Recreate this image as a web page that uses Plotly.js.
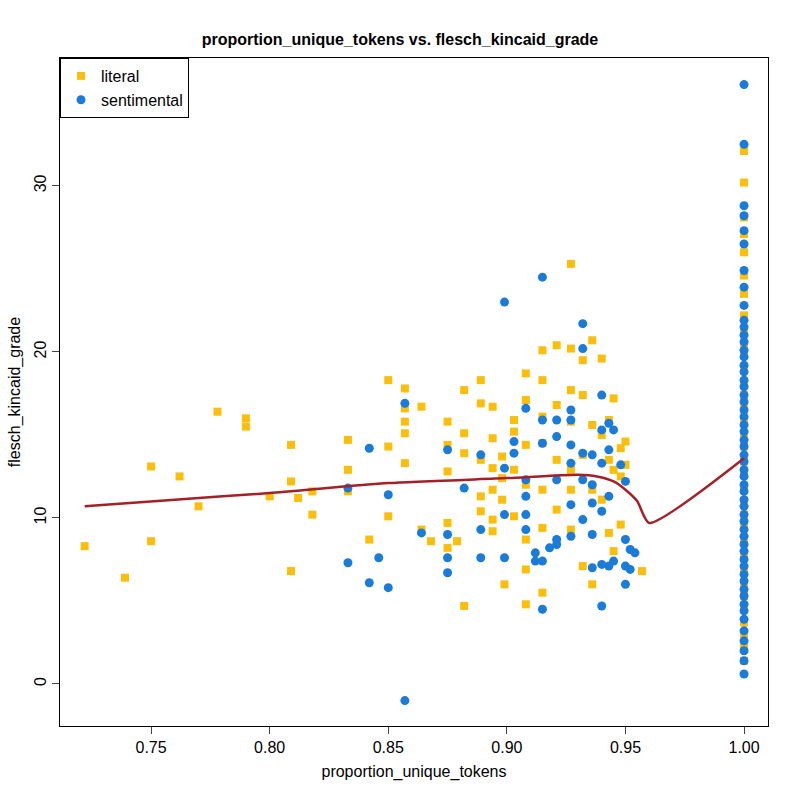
<!DOCTYPE html>
<html>
<head>
<meta charset="utf-8">
<script src="https://cdn.plot.ly/plotly-3.0.1.min.js"></script>
<style>body{margin:0;background:#fff}#chart{width:800px;height:800px}</style>
</head>
<body>
<div id="chart"></div>
<script>
// literal points below 1.0
const litX = [0.722,0.739,0.750,0.750,0.762,0.770,0.778,0.790,0.790,0.800,0.809,0.809,0.809,0.812,0.818,0.818,
  0.833,0.833,0.833,0.842,0.850,0.850,0.850,0.857,0.857,0.857,0.857,0.857,0.864,0.864,0.868,
  0.875,0.875,0.875,0.875,0.875,0.879,0.882,0.882,0.882,0.882,0.889,0.889,0.889,0.889,0.889,
  0.894,0.894,0.894,0.894,0.894,0.894,0.898,0.898,0.898,0.899,0.903,0.903,0.903,0.903,
  0.908,0.908,0.908,0.908,0.908,0.908,0.908,0.915,0.915,0.915,0.915,0.915,0.915,0.915,
  0.921,0.921,0.921,0.921,0.927,0.927,0.927,0.927,0.927,0.927,0.927,0.932,0.932,0.932,0.932,
  0.936,0.936,0.936,0.936,0.940,0.940,0.940,0.943,0.943,0.943,0.945,0.945,0.945,
  0.948,0.948,0.948,0.950,0.950,0.957];
const litY = [8.3,6.4,13.1,8.6,12.5,10.7,16.4,16.0,15.5,11.3,14.4,12.2,6.8,11.2,11.6,10.2,
  14.7,12.9,11.6,8.7,18.3,14.3,10.1,17.8,16.6,15.8,15.1,13.3,16.7,9.3,8.6,
  15.8,14.4,12.8,9.7,8.2,8.6,17.7,15.1,13.9,4.7,18.3,16.9,13.5,11.3,10.4,
  16.7,14.8,13.0,11.7,9.9,9.2,13.7,12.4,11.1,6.0,15.9,15.2,12.9,10.1,
  18.7,17.1,14.4,12.0,8.7,6.9,4.8,20.1,18.3,16.1,14.5,11.7,9.4,5.5,
  20.4,16.8,13.5,10.5,25.3,20.2,17.7,15.8,12.9,11.7,9.3,19.5,17.4,13.8,7.1,
  20.7,15.6,11.7,6.0,19.6,15.0,11.1,15.9,13.5,9.1,17.2,12.9,8.0,
  14.2,12.5,9.6,14.6,13.2,6.8];
// literal points at proportion 1.0
const litEdgeY = [32.1,30.2,28.1,27.1,26.0,24.6,23.5,22.2,21.3,20.5,19.8,18.9,18.1,17.4,16.6,15.9,15.1,
  14.3,13.4,12.6,11.8,11.0,10.2,9.4,8.5,7.7,6.9,6.1,5.3,4.5,3.7,3.0,2.3,1.4];

const sentX = [0.833,0.833,0.842,0.842,0.846,0.850,0.850,0.857,0.857,0.864,0.875,0.875,0.875,0.875,0.882,
  0.889,0.889,0.889,0.899,0.899,0.899,0.899,0.903,0.903,0.908,0.908,0.908,0.908,0.908,0.912,0.912,
  0.915,0.915,0.915,0.915,0.915,0.918,0.921,0.921,0.921,0.921,0.921,0.927,0.927,0.927,0.927,0.927,0.927,
  0.932,0.932,0.932,0.932,0.932,0.936,0.936,0.936,0.936,0.936,0.940,0.940,0.940,0.940,0.940,0.940,
  0.943,0.943,0.943,0.943,0.945,0.945,0.948,0.950,0.950,0.950,0.950,0.952,0.952,0.954];
const sentY = [11.8,7.3,14.2,6.1,7.6,11.4,5.8,16.9,-1.0,9.1,14.1,9.0,7.6,6.7,11.8,
  13.8,9.3,7.6,23.0,13.0,10.2,7.6,14.6,13.9,16.6,12.3,11.3,10.2,9.3,7.9,7.4,
  24.5,15.9,14.5,7.4,4.5,8.2,15.9,14.9,12.3,8.7,8.4,16.5,15.9,14.4,13.3,10.8,8.9,
  21.7,20.2,13.9,12.3,9.9,13.8,12.0,10.9,9.0,7.0,17.4,15.3,13.3,10.4,7.2,4.7,
  15.7,14.1,11.3,7.1,15.3,7.4,13.2,12.2,8.7,7.1,6.0,8.1,6.9,7.9];
const sentEdgeY = [36.1,32.5,28.8,28.2,27.3,26.5,24.9,23.9,22.8,21.9,21.5,21.0,20.6,20.1,19.7,19.2,18.8,
  18.3,17.9,17.4,17.0,16.5,16.1,15.6,15.2,14.7,14.3,13.8,13.4,12.9,12.5,12.0,11.6,11.1,10.7,10.2,
  9.8,9.3,8.9,8.4,8.0,7.5,7.1,6.6,6.2,5.7,5.3,4.8,4.4,3.9,3.2,2.6,2.0,1.4,0.6];

// smoother line
const fitX = [0.722,0.76,0.80,0.85,0.90,0.93,0.938,0.945,0.95,0.955,0.96,1.0];
const fitY = [10.7,11.1,11.5,12.1,12.4,12.6,12.5,12.2,11.7,11.0,9.7,13.6];

const font = {family: 'Liberation Sans, Arial, sans-serif', size: 16, color: '#000'};

const data = [
  {x: litX.concat(litEdgeY.map(() => 1.0)), y: litY.concat(litEdgeY), mode: 'markers', type: 'scatter',
   name: 'literal', marker: {symbol: 'square', size: 8, color: '#FBBE0A'}},
  {x: sentX.concat(sentEdgeY.map(() => 1.0)), y: sentY.concat(sentEdgeY), mode: 'markers', type: 'scatter',
   name: 'sentimental', marker: {symbol: 'circle', size: 9, color: '#1A7BD9'}},
  {x: fitX, y: fitY, mode: 'lines', type: 'scatter', showlegend: false,
   line: {color: '#A52026', width: 2.5, shape: 'spline', smoothing: 0.6}}
];

const layout = {
  width: 800, height: 800,
  margin: {l: 60, r: 32, t: 58, b: 74},
  paper_bgcolor: '#fff', plot_bgcolor: '#fff',
  font: font,
  title: {text: '<b>proportion_unique_tokens vs. flesch_kincaid_grade</b>', x: 0.5, y: 0.958, font: {size: 16, family: font.family}},
  xaxis: {range: [0.7116, 1.0101], tickvals: [0.75,0.80,0.85,0.90,0.95,1.00], ticktext: ['0.75','0.80','0.85','0.90','0.95','1.00'],
    showgrid: false, zeroline: false, showline: true, mirror: true, linecolor: '#000', ticks: 'outside', ticklen: 7,
    title: {text: 'proportion_unique_tokens', font: {size: 16}, standoff: 10}},
  yaxis: {range: [-2.53, 37.7], tickvals: [0,10,20,30], tickangle: -90,
    showgrid: false, zeroline: false, showline: true, mirror: true, linecolor: '#000', ticks: 'outside', ticklen: 7,
    title: {text: 'flesch_kincaid_grade', font: {size: 16}, standoff: 6}},
  legend: {x: 0, y: 1, xanchor: 'left', yanchor: 'top', bordercolor: '#000', borderwidth: 1,
    bgcolor: '#fff', font: {size: 16}}
};

Plotly.newPlot('chart', data, layout, {displayModeBar: false});
</script>
</body>
</html>
